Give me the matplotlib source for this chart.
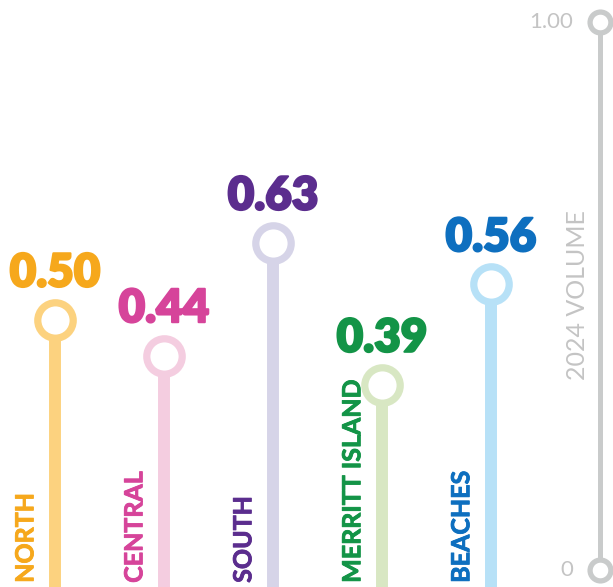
import matplotlib
matplotlib.use("Agg")
import matplotlib.pyplot as plt
import matplotlib.patheffects as pe

# data
regions = ["NORTH", "CENTRAL", "SOUTH", "MERRITT ISLAND", "BEACHES"]
volume = [0.50, 0.44, 0.63, 0.39, 0.56]
value_labels = ["0.50", "0.44", "0.63", "0.39", "0.56"]
text_colors = ["#F6A81C", "#D6449A", "#5B2D8E", "#139447", "#0E6FBF"]
stem_colors = ["#FCD27F", "#F4CDE0", "#D6D4E8", "#D8E7C3", "#B7E1F7"]
axis_ticks = ["0", "1.00"]
axis_title = "2024 VOLUME"

GRAY = "#C9CBCB"
TICK_GRAY = "#C4C4C4"

plt.rcParams["font.family"] = ["Lato", "DejaVu Sans"]

fig = plt.figure(figsize=(6.13, 5.87), dpi=100)
ax = fig.add_axes([0, 0, 1, 1])
ax.set_xlim(-0.505, 5.12)
ax.set_ylim(0.049, 1.0405)  # zero sits just below the picture
ax.axis("off")

ybot = ax.get_ylim()[0]
for i, (v, lab, txt, tc, sc) in enumerate(zip(volume, regions, value_labels, text_colors, stem_colors)):
    ax.plot([i, i], [ybot, v], color=sc, lw=8.6, solid_capstyle="butt", zorder=1)
    ax.plot(i, v, marker="o", ms=25.5, mfc="white", mec=sc, mew=5.2, zorder=2)
    ax.annotate(txt, (i, v), xytext=(0, 24), textcoords="offset points",
                ha="center", va="baseline", fontsize=33, fontweight="heavy", color=tc,
                path_effects=[pe.withStroke(linewidth=1.5, foreground=tc)])
    ax.annotate(lab, (i, ybot), xytext=(-21, 3), textcoords="offset points",
                ha="center", va="bottom", rotation=90, fontsize=18,
                fontweight="bold", color=tc,
                path_effects=[pe.withStroke(linewidth=0.6, foreground=tc)])

# decorative value axis on the right, drawn in axes fraction
ax_x = 5
tr = ax.get_xaxis_transform()
y_lo, y_hi = 1 - 570 / 587, 1 - 22 / 587
ax.plot([ax_x, ax_x], [y_lo, y_hi], transform=tr, color=GRAY, lw=3.6,
        solid_capstyle="butt", zorder=1)
for yy, t in zip([y_lo, y_hi], axis_ticks):
    ax.plot(ax_x, yy, transform=tr, marker="o", ms=15, mfc="white", mec=GRAY,
            mew=3.8, zorder=2)
    ax.annotate(t, (ax_x, yy), xycoords=tr, xytext=(-19.5, 0), textcoords="offset points",
                ha="right", va="center", fontsize=16, color=TICK_GRAY)
ax.annotate(axis_title, (ax_x, 1 - 295 / 587), xycoords=tr, xytext=(-16, 0),
            textcoords="offset points", ha="center", va="center", rotation=90,
            fontsize=18, color=TICK_GRAY)

fig.savefig("out.png", dpi=100)
